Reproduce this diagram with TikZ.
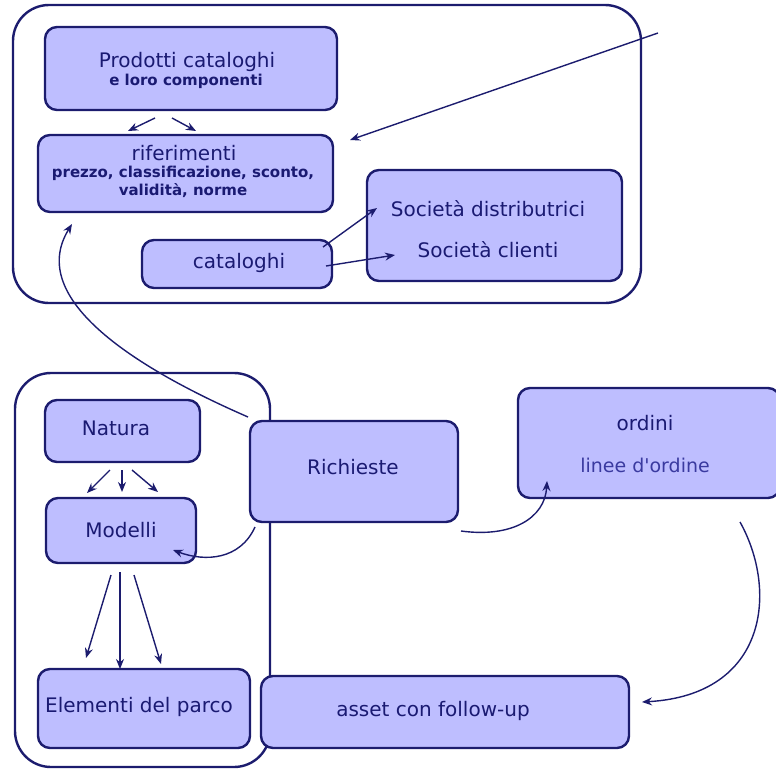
\documentclass[tikz,border=0pt]{standalone}
\usepackage{fontspec}
\setmainfont{DejaVu Sans}
\usetikzlibrary{arrows.meta}
\definecolor{navy}{HTML}{1C1C6E}
\definecolor{boxfill}{HTML}{BEBEFF}
\definecolor{txt}{HTML}{1A1A72}
\definecolor{lighttxt}{HTML}{3A3AA0}
\begin{document}
\begin{tikzpicture}[x=1pt,y=-1pt,
  box/.style={draw=navy, line width=2.4pt, fill=boxfill, rounded corners=12pt, inner sep=0pt},
  cont/.style={draw=navy, line width=2.4pt, rounded corners=36pt, inner sep=0pt},
  big/.style={text=txt, font=\fontsize{20}{24}\selectfont, inner sep=0pt},
  small/.style={text=txt, font=\fontsize{15}{17}\selectfont\bfseries, inner sep=0pt},
  arr/.style={draw=navy, line width=1.4pt, -{Stealth[length=10pt,width=8pt]}}]
\useasboundingbox (0,0) rectangle (776,768);
% containers
\node[cont, minimum width=628, minimum height=298] (topc) at (327,154) {};
\node[cont, minimum width=255, minimum height=394] (botc) at (142.5,570) {};
% boxes top
\node[box, minimum width=292, minimum height=83] (prod) at (191,68.5) {};
\node[box, minimum width=295, minimum height=77] (rif) at (185.5,173.5) {};
\node[box, minimum width=190, minimum height=48] (cat) at (237,264) {};
\node[box, minimum width=255, minimum height=111] (soc) at (494.5,225.5) {};
% boxes bottom
\node[box, minimum width=155, minimum height=62] (nat) at (122.5,431) {};
\node[box, minimum width=150, minimum height=65] (mod) at (121,530.5) {};
\node[box, minimum width=212, minimum height=79] (ele) at (144,708.5) {};
\node[box, minimum width=208, minimum height=101] (ric) at (354,471.5) {};
\node[box, minimum width=262, minimum height=110] (ord) at (649,443) {};
\node[box, minimum width=368, minimum height=72] (ass) at (445,712) {};
% texts
\node[big] (prodT) at (187,62) {Prodotti cataloghi};
\node[small] (prodS) at (186,81) {e loro componenti};
\node[big] (rifT) at (184,153) {riferimenti};
\node[small] (rifS1) at (183,173) {prezzo, classificazione, sconto,};
\node[small] (rifS2) at (183,191) {validità, norme};
\node[big] (catT) at (239,263) {cataloghi};
\node[big] (soc1) at (488,209) {Società distributrici};
\node[big] (soc2) at (488,250) {Società clienti};
\node[big] (natT) at (116,428) {Natura};
\node[big] (modT) at (121,530) {Modelli};
\node[big] (eleT) at (139,707) {Elementi del parco};
\node[big] (ricT) at (353,467) {Richieste};
\node[big] (ordT) at (645,423) {ordini};
\node[big, text=lighttxt, font=\fontsize{19}{22}\selectfont] (ordS) at (645,465) {linee d\textquotesingle ordine};
\node[big] (assT) at (433,711) {asset con follow-up};
% connector end points
\coordinate (p1a) at (155,118); \coordinate (r1a) at (128,131);
\coordinate (p1b) at (172,118); \coordinate (r1b) at (196,131);
\coordinate (farTop) at (658,33); \coordinate (rFar) at (350,140);
\coordinate (c1) at (323,247); \coordinate (s1) at (377,208);
\coordinate (c2) at (326,266); \coordinate (s2) at (395,255);
\coordinate (q0) at (248,417); \coordinate (r0) at (72,224);
\coordinate (n1) at (110,470); \coordinate (m1) at (87,493);
\coordinate (n2) at (122,470); \coordinate (m2) at (122,492);
\coordinate (n3) at (132,470); \coordinate (m3) at (158,492);
\coordinate (m4) at (111,575); \coordinate (e4) at (86,658);
\coordinate (m5) at (120,572); \coordinate (e5) at (120,669);
\coordinate (m6) at (134,575); \coordinate (e6) at (161,664);
\coordinate (q1) at (255,527); \coordinate (mq) at (173,550);
\coordinate (q2) at (461,531); \coordinate (o2) at (547,481);
\coordinate (o3) at (740,522); \coordinate (a3) at (642,702);
% arrows top
\draw[arr] (p1a) -- (r1a);
\draw[arr] (p1b) -- (r1b);
\draw[arr] (farTop) -- (rFar);
\draw[arr] (c1) -- (s1);
\draw[arr] (c2) -- (s2);
\draw[arr] (q0) .. controls (140,370) and (25,300) .. (r0);
% arrows bottom
\draw[arr] (n1) -- (m1);
\draw[arr] (n2) -- (m2);
\draw[arr] (n3) -- (m3);
\draw[arr] (m4) -- (e4);
\draw[arr] (m5) -- (e5);
\draw[arr] (m6) -- (e6);
\draw[arr] (q1) .. controls (240,560) and (205,562) .. (mq);
\draw[arr] (q2) .. controls (512,538) and (545,518) .. (o2);
\draw[arr] (o3) .. controls (778,590) and (768,695) .. (a3);
\end{tikzpicture}
\end{document}
